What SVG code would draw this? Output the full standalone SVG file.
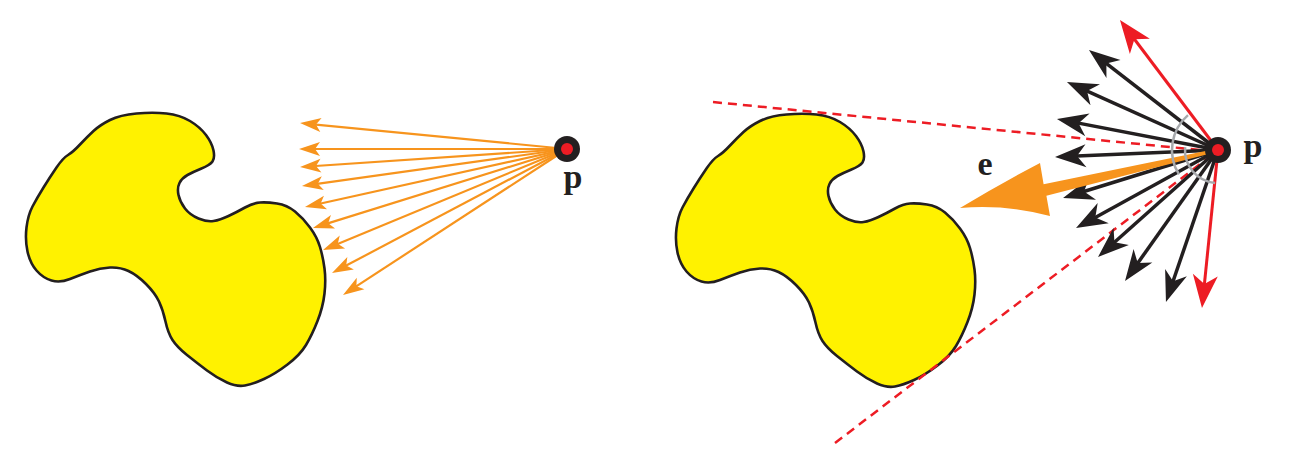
<svg xmlns="http://www.w3.org/2000/svg" xmlns:xlink="http://www.w3.org/1999/xlink" width="1290" height="459" viewBox="0 0 1290 459">
<style>
.blob{fill:#FFF200;stroke:#231F20;stroke-width:2.6;stroke-linejoin:round}
.oa{stroke:#F7941D;stroke-width:2.2;fill:none;marker-end:url(#ah-orange)}
.ba{stroke:#231F20;stroke-width:3.5;fill:none;marker-end:url(#ah-black)}
.ra{stroke:#ED1C24;stroke-width:3;fill:none;marker-end:url(#ah-red)}
.dash{stroke:#ED1C24;stroke-width:2.5;stroke-dasharray:9 6;fill:none}
.arc{stroke:#A7A9AC;stroke-width:2.5;fill:none}
.lbl{font-family:"Liberation Serif","Times New Roman",serif;font-weight:bold;font-size:34px;fill:#231F20;text-anchor:middle}
</style>
<defs>
<marker id="ah-orange" markerUnits="userSpaceOnUse" orient="auto" refX="-8" refY="0" markerWidth="1" markerHeight="1" style="overflow:visible"><path d="M0,0 L-21,-7 L-16,0 L-21,7 Z" fill="#F7941D"/></marker>
<marker id="ah-black" markerUnits="userSpaceOnUse" orient="auto" refX="-10" refY="0" markerWidth="1" markerHeight="1" style="overflow:visible"><path d="M0,0 L-31,-11.5 L-22,0 L-31,11.5 Z" fill="#231F20"/></marker>
<marker id="ah-red" markerUnits="userSpaceOnUse" orient="auto" refX="-10" refY="0" markerWidth="1" markerHeight="1" style="overflow:visible"><path d="M0,0 L-33,-12.5 L-24,0 L-33,12.5 Z" fill="#ED1C24"/></marker>
<path id="blobShape" d="M110,120 Q120,115 136.5,113.5 Q153,112 166.5,113.5 Q180,115 190,121 Q200,127 206,135 Q212,143 213.5,150.5 Q215,158 212.5,161.5 Q210,165 201.5,168.5 Q193,172 187.5,175 Q182,178 179.5,183 Q177,188 178.5,195 Q180,202 185,208.5 Q190,215 198.5,218.5 Q207,222 213.5,221 Q220,220 228.5,216 Q237,212 245,207.5 Q253,203 260,202.5 Q267,202 277,203.5 Q287,205 295,211.5 Q303,218 310,227.5 Q317,237 320,247 Q323,257 324.5,268.5 Q326,280 324.5,293.5 Q323,307 317.5,321 Q312,335 306,345 Q300,355 287.5,364.5 Q275,374 264,379 Q253,384 245,385.5 Q237,387 227,382.5 Q217,378 207,370.5 Q197,363 187,355 Q177,347 172.5,340 Q168,333 165.5,321.5 Q163,310 159,301.5 Q155,293 146,284 Q137,275 128.5,271 Q120,267 110,267.5 Q100,268 90,271.5 Q80,275 70,279 Q60,283 51.5,280.5 Q43,278 36.5,270.5 Q30,263 27.5,251.5 Q25,240 26.5,227.5 Q28,215 32.5,206.5 Q37,198 43.5,187.5 Q50,177 56.5,167.5 Q63,158 68,155 Q73,152 80,144.5 Q87,137 93.5,131 Q100,125 110,120 Z"/>
</defs>
<rect width="1290" height="459" fill="#FFFFFF"/>

<g id="blob-left"><use xlink:href="#blobShape" class="blob"/></g>
<g id="blob-right"><use xlink:href="#blobShape" class="blob" transform="translate(650,1)"/></g>

<g id="connectors">
  <g id="rays-left">
    <line class="oa" x1="567" y1="149" x2="308" y2="123.8"/>
    <line class="oa" x1="567" y1="149" x2="307" y2="149"/>
    <line class="oa" x1="567" y1="149" x2="308" y2="166.5"/>
    <line class="oa" x1="567" y1="149" x2="309.9" y2="184.9"/>
    <line class="oa" x1="567" y1="149" x2="312.8" y2="205.3"/>
    <line class="oa" x1="567" y1="149" x2="320.6" y2="225.6"/>
    <line class="oa" x1="567" y1="149" x2="330.4" y2="246.9"/>
    <line class="oa" x1="567" y1="149" x2="339.1" y2="269.3"/>
    <line class="oa" x1="567" y1="149" x2="349.7" y2="290.6"/>
  </g>
  <g id="tangents">
    <line class="dash" x1="713" y1="102" x2="1210" y2="151"/>
    <line class="dash" x1="835" y1="443" x2="1212" y2="155"/>
  </g>
  <g id="rays-right">
    <line class="ba" x1="1218" y1="150" x2="1096.9" y2="56.1"/>
    <line class="ba" x1="1218" y1="150" x2="1076.1" y2="86.1"/>
    <line class="ba" x1="1218" y1="150" x2="1066.8" y2="120.9"/>
    <line class="ba" x1="1218" y1="150" x2="1065" y2="156.6"/>
    <line class="ba" x1="1218" y1="150" x2="1072.6" y2="195"/>
    <line class="ba" x1="1218" y1="150" x2="1084.8" y2="223.2"/>
    <line class="ba" x1="1218" y1="150" x2="1105.5" y2="250.3"/>
    <line class="ba" x1="1218" y1="150" x2="1130.8" y2="272.9"/>
    <line class="ba" x1="1218" y1="150" x2="1169.2" y2="292.5"/>
    <line class="ra" x1="1218" y1="150" x2="1126" y2="28"/>
    <line class="ra" x1="1218" y1="150" x2="1203" y2="298"/>
  </g>
  <g id="arrow-e">
    <path d="M960,208 Q1000,184 1040,163 L1043.6,184.2 L1217.7,148.5 L1218.3,151.5 L1046.4,195.8 L1050,216 Q1005,204 960,208 Z" fill="#F7941D"/>
  </g>
  <g id="angle-arcs">
    <path class="arc" d="M1188,115.1 A46,46 0 0 0 1179,174.4"/>
    <path class="arc" d="M1185.1,147.1 A33,33 0 0 0 1215.1,182.9"/>
  </g>
</g>

<g id="point-left">
  <circle cx="567" cy="149" r="13" fill="#231F20"/>
  <circle cx="567" cy="149" r="6" fill="#ED1C24"/>
  <text class="lbl" x="573" y="188">p</text>
</g>
<g id="point-right">
  <circle cx="1218" cy="150" r="13" fill="#231F20"/>
  <circle cx="1218" cy="150" r="6" fill="#ED1C24"/>
  <text class="lbl" x="1253" y="157">p</text>
</g>
<g id="label-e">
  <text class="lbl" x="985" y="175">e</text>
</g>
</svg>
